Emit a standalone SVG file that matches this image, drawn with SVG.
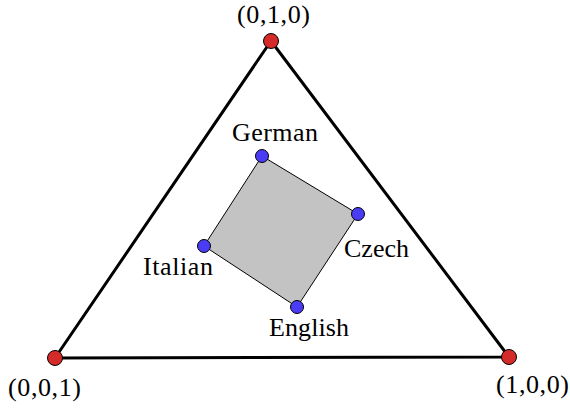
<svg xmlns="http://www.w3.org/2000/svg" width="570" height="410" viewBox="0 0 570 410">
<style>
text{font-family:"Liberation Serif","DejaVu Serif",serif;font-size:26px;fill:#000}
.v{fill:#d42a2a;stroke:#000;stroke-width:1}
.p{fill:#4a3cf5;stroke:#000;stroke-width:1}
</style>
<rect width="570" height="410" fill="#fff"/>
<g id="connectors">
<polygon points="271,41 509,357 55,358" fill="none" stroke="#000" stroke-width="3" stroke-linejoin="round"/>
<polygon points="262,156 358,214 297,307 204,246" fill="#c3c3c3" stroke="#000" stroke-width="1"/>
</g>
<g id="v010"><circle class="v" cx="271" cy="41" r="7.5"/><text x="237" y="23" font-size="25" textLength="73" lengthAdjust="spacing">(0,1,0)</text></g>
<g id="v001"><circle class="v" cx="55" cy="358" r="7.5"/><text x="8" y="396" textLength="73" lengthAdjust="spacing">(0,0,1)</text></g>
<g id="v100"><circle class="v" cx="509" cy="357" r="7.5"/><text x="496" y="393" textLength="73" lengthAdjust="spacing">(1,0,0)</text></g>
<g id="german"><circle class="p" cx="262" cy="156" r="6.5"/><text x="232" y="141" textLength="86" lengthAdjust="spacing">German</text></g>
<g id="czech"><circle class="p" cx="358" cy="214" r="6.5"/><text x="344" y="257" textLength="65" lengthAdjust="spacing">Czech</text></g>
<g id="english"><circle class="p" cx="297" cy="307" r="6.5"/><text x="269" y="336" textLength="80" lengthAdjust="spacing">English</text></g>
<g id="italian"><circle class="p" cx="204" cy="246" r="6.5"/><text x="143" y="275" textLength="70" lengthAdjust="spacing">Italian</text></g>
</svg>
